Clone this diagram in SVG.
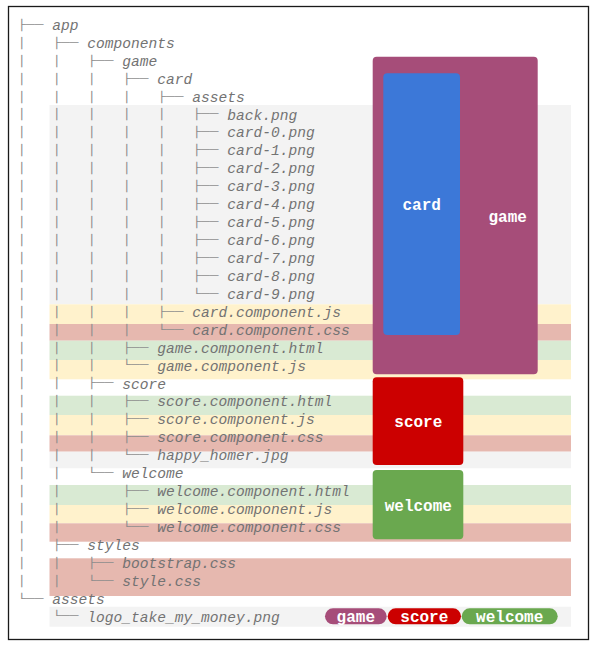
<svg xmlns="http://www.w3.org/2000/svg" width="598" height="670" viewBox="0 0 598 670">
<style>
.t{font-family:"Liberation Mono","DejaVu Sans Mono",monospace;font-size:14.58px;fill:#737373;font-style:italic}
.p{font-family:"Liberation Mono","DejaVu Sans Mono",monospace;font-size:11px;fill:#8c8c8c;white-space:pre}
.lbl{font-family:"Liberation Mono","DejaVu Sans Mono",monospace;font-size:16px;font-weight:bold;fill:#ffffff;text-anchor:middle}
.gray{fill:#f3f3f3}.yel{fill:#fff2cc}.red{fill:#e6b8af}.grn{fill:#d9ead3}
</style>
<rect x="0" y="0" width="598" height="670" fill="#ffffff"/>
<rect x="8.5" y="6.5" width="580" height="633" fill="none" stroke="#1a1a1a" stroke-width="1.3"/>
<g id="bands">
<rect class="gray" x="49.5" y="105" width="521.5" height="199.3"/>
<rect class="yel" x="49.5" y="304.3" width="521.5" height="19.7"/>
<rect class="red" x="49.5" y="324" width="521.5" height="16.7"/>
<rect class="grn" x="49.5" y="340.7" width="521.5" height="19.3"/>
<rect class="yel" x="49.5" y="360" width="521.5" height="19.3"/>
<rect class="grn" x="49.5" y="395.7" width="521.5" height="19.3"/>
<rect class="yel" x="49.5" y="415" width="521.5" height="20.3"/>
<rect class="red" x="49.5" y="435.3" width="521.5" height="16.4"/>
<rect class="gray" x="49.5" y="451.7" width="521.5" height="16.6"/>
<rect class="grn" x="49.5" y="485" width="521.5" height="20"/>
<rect class="yel" x="49.5" y="505" width="521.5" height="18.3"/>
<rect class="red" x="49.5" y="523.3" width="521.5" height="18.4"/>
<rect class="red" x="49.5" y="558.3" width="521.5" height="37.7"/>
<rect class="gray" x="49.5" y="606.7" width="521.5" height="20"/>
</g>
<g id="connectors" xml:space="preserve">
<text class="p" transform="translate(17.3 27.8) scale(1.3258 1)">├──</text>
<text class="p" transform="translate(17.3 45.73) scale(1.3258 1)">│   ├──</text>
<text class="p" transform="translate(17.3 63.66) scale(1.3258 1)">│   │   ├──</text>
<text class="p" transform="translate(17.3 81.59) scale(1.3258 1)">│   │   │   ├──</text>
<text class="p" transform="translate(17.3 99.52) scale(1.3258 1)">│   │   │   │   ├──</text>
<text class="p" transform="translate(17.3 117.45) scale(1.3258 1)">│   │   │   │   │   ├──</text>
<text class="p" transform="translate(17.3 135.38) scale(1.3258 1)">│   │   │   │   │   ├──</text>
<text class="p" transform="translate(17.3 153.31) scale(1.3258 1)">│   │   │   │   │   ├──</text>
<text class="p" transform="translate(17.3 171.24) scale(1.3258 1)">│   │   │   │   │   ├──</text>
<text class="p" transform="translate(17.3 189.17) scale(1.3258 1)">│   │   │   │   │   ├──</text>
<text class="p" transform="translate(17.3 207.1) scale(1.3258 1)">│   │   │   │   │   ├──</text>
<text class="p" transform="translate(17.3 225.03) scale(1.3258 1)">│   │   │   │   │   ├──</text>
<text class="p" transform="translate(17.3 242.96) scale(1.3258 1)">│   │   │   │   │   ├──</text>
<text class="p" transform="translate(17.3 260.89) scale(1.3258 1)">│   │   │   │   │   ├──</text>
<text class="p" transform="translate(17.3 278.82) scale(1.3258 1)">│   │   │   │   │   ├──</text>
<text class="p" transform="translate(17.3 296.75) scale(1.3258 1)">│   │   │   │   │   └──</text>
<text class="p" transform="translate(17.3 314.68) scale(1.3258 1)">│   │   │   │   ├──</text>
<text class="p" transform="translate(17.3 332.61) scale(1.3258 1)">│   │   │   │   └──</text>
<text class="p" transform="translate(17.3 350.54) scale(1.3258 1)">│   │   │   ├──</text>
<text class="p" transform="translate(17.3 368.47) scale(1.3258 1)">│   │   │   └──</text>
<text class="p" transform="translate(17.3 386.4) scale(1.3258 1)">│   │   ├──</text>
<text class="p" transform="translate(17.3 404.33) scale(1.3258 1)">│   │   │   ├──</text>
<text class="p" transform="translate(17.3 422.26) scale(1.3258 1)">│   │   │   ├──</text>
<text class="p" transform="translate(17.3 440.19) scale(1.3258 1)">│   │   │   ├──</text>
<text class="p" transform="translate(17.3 458.12) scale(1.3258 1)">│   │   │   └──</text>
<text class="p" transform="translate(17.3 476.05) scale(1.3258 1)">│   │   └──</text>
<text class="p" transform="translate(17.3 493.98) scale(1.3258 1)">│   │       ├──</text>
<text class="p" transform="translate(17.3 511.91) scale(1.3258 1)">│   │       ├──</text>
<text class="p" transform="translate(17.3 529.84) scale(1.3258 1)">│   │       └──</text>
<text class="p" transform="translate(17.3 547.77) scale(1.3258 1)">│   ├──</text>
<text class="p" transform="translate(17.3 565.7) scale(1.3258 1)">│   │   ├──</text>
<text class="p" transform="translate(17.3 583.63) scale(1.3258 1)">│   │   └──</text>
<text class="p" transform="translate(17.3 601.56) scale(1.3258 1)">└──</text>
<text class="p" transform="translate(17.3 619.49) scale(1.3258 1)">    └──</text>
</g>
<g id="tree">
<text id="r0" class="t" x="52.3" y="29.9">app</text>
<text id="r1" class="t" x="87.3" y="47.83">components</text>
<text id="r2" class="t" x="122.3" y="65.76">game</text>
<text id="r3" class="t" x="157.3" y="83.69">card</text>
<text id="r4" class="t" x="192.3" y="101.62">assets</text>
<text id="r5" class="t" x="227.3" y="119.55">back.png</text>
<text id="r6" class="t" x="227.3" y="137.48">card-0.png</text>
<text id="r7" class="t" x="227.3" y="155.41">card-1.png</text>
<text id="r8" class="t" x="227.3" y="173.34">card-2.png</text>
<text id="r9" class="t" x="227.3" y="191.27">card-3.png</text>
<text id="r10" class="t" x="227.3" y="209.2">card-4.png</text>
<text id="r11" class="t" x="227.3" y="227.13">card-5.png</text>
<text id="r12" class="t" x="227.3" y="245.06">card-6.png</text>
<text id="r13" class="t" x="227.3" y="262.99">card-7.png</text>
<text id="r14" class="t" x="227.3" y="280.92">card-8.png</text>
<text id="r15" class="t" x="227.3" y="298.85">card-9.png</text>
<text id="r16" class="t" x="192.3" y="316.78">card.component.js</text>
<text id="r17" class="t" x="192.3" y="334.71">card.component.css</text>
<text id="r18" class="t" x="157.3" y="352.64">game.component.html</text>
<text id="r19" class="t" x="157.3" y="370.57">game.component.js</text>
<text id="r20" class="t" x="122.3" y="388.5">score</text>
<text id="r21" class="t" x="157.3" y="406.43">score.component.html</text>
<text id="r22" class="t" x="157.3" y="424.36">score.component.js</text>
<text id="r23" class="t" x="157.3" y="442.29">score.component.css</text>
<text id="r24" class="t" x="157.3" y="460.22">happy_homer.jpg</text>
<text id="r25" class="t" x="122.3" y="478.15">welcome</text>
<text id="r26" class="t" x="157.3" y="496.08">welcome.component.html</text>
<text id="r27" class="t" x="157.3" y="514.01">welcome.component.js</text>
<text id="r28" class="t" x="157.3" y="531.94">welcome.component.css</text>
<text id="r29" class="t" x="87.3" y="549.87">styles</text>
<text id="r30" class="t" x="122.3" y="567.8">bootstrap.css</text>
<text id="r31" class="t" x="122.3" y="585.73">style.css</text>
<text id="r32" class="t" x="52.3" y="603.66">assets</text>
<text id="r33" class="t" x="87.3" y="621.59">logo_take_my_money.png</text>
</g>
<g id="game">
<rect x="372.7" y="56.7" width="165" height="317.6" rx="4" fill="#a64d79"/>
<text class="lbl" x="507.7" y="221.7">game</text>
</g>
<g id="card">
<rect x="383.3" y="73.3" width="76.7" height="261.7" rx="4" fill="#3c78d8"/>
<text class="lbl" x="421.7" y="210">card</text>
</g>
<g id="score">
<rect x="372.7" y="377.3" width="90.6" height="87.7" rx="4" fill="#cc0000"/>
<text class="lbl" x="418.3" y="427.3">score</text>
</g>
<g id="welcome">
<rect x="372.7" y="470" width="90.6" height="69.3" rx="4" fill="#6aa84f"/>
<text class="lbl" x="418.3" y="510.7">welcome</text>
</g>
<g id="legend-game">
<rect x="325" y="608.3" width="61.7" height="16" rx="8" fill="#a64d79"/>
<text class="lbl" x="355.8" y="622.3">game</text>
</g>
<g id="legend-score">
<rect x="387.7" y="608.3" width="73.3" height="16" rx="8" fill="#cc0000"/>
<text class="lbl" x="424.3" y="622.3">score</text>
</g>
<g id="legend-welcome">
<rect x="461.7" y="608.3" width="96" height="16" rx="8" fill="#6aa84f"/>
<text class="lbl" x="509.7" y="622.3">welcome</text>
</g>
</svg>
